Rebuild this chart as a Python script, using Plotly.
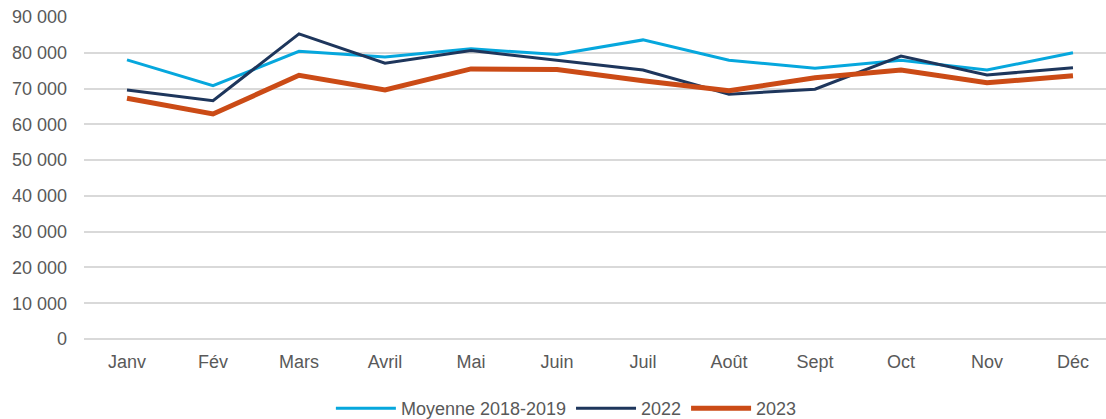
import plotly.graph_objects as go

months = ["Janv", "Fév", "Mars", "Avril", "Mai", "Juin", "Juil", "Août", "Sept", "Oct", "Nov", "Déc"]
moyenne = [78000, 70800, 80400, 78800, 81100, 79500, 83600, 77900, 75700, 77900, 75200, 80000]
y2022 = [69600, 66600, 85300, 77100, 80600, 78000, 75200, 68400, 69800, 79100, 73800, 75800]
y2023 = [67300, 62900, 73700, 69600, 75500, 75300, 72200, 69400, 73000, 75200, 71600, 73600]

tick_vals = list(range(0, 90001, 10000))
tick_text = [f"{v:,}".replace(",", " ") for v in tick_vals]

fig = go.Figure()
fig.add_trace(go.Scatter(x=months, y=moyenne, mode="lines", name="Moyenne 2018-2019",
                         line=dict(color="#06A7DD", width=3)))
fig.add_trace(go.Scatter(x=months, y=y2022, mode="lines", name="2022",
                         line=dict(color="#1E365C", width=3)))
fig.add_trace(go.Scatter(x=months, y=y2023, mode="lines", name="2023",
                         line=dict(color="#CB4B16", width=5)))

font = dict(family="Liberation Sans, Arial, sans-serif", size=18, color="#595959")
fig.update_layout(
    width=1106, height=427,
    margin=dict(l=84, r=0, t=17, b=86),
    paper_bgcolor="white", plot_bgcolor="white",
    font=font,
    showlegend=True,
    legend=dict(orientation="h", x=0.472, xanchor="center", y=-0.216, yanchor="middle",
                font=font, tracegroupgap=0, itemwidth=60),
    xaxis=dict(range=[-0.5, 11.384], showgrid=False, zeroline=False, showline=False,
               ticks="", tickfont=font, ticklabelstandoff=10, automargin=False),
    yaxis=dict(range=[0, 90000], tickvals=tick_vals, ticktext=tick_text,
               showgrid=True, gridcolor="#D9D9D9", gridwidth=1.5,
               zeroline=True, zerolinecolor="#D9D9D9", zerolinewidth=1.5,
               showline=False, ticks="", tickfont=font, ticklabelstandoff=16,
               ticklabeloverflow="allow", automargin=False),
)
fig.write_html("out.html", config={"displayModeBar": False},
               post_script="document.body.style.margin='0';document.body.style.overflow='hidden';")
